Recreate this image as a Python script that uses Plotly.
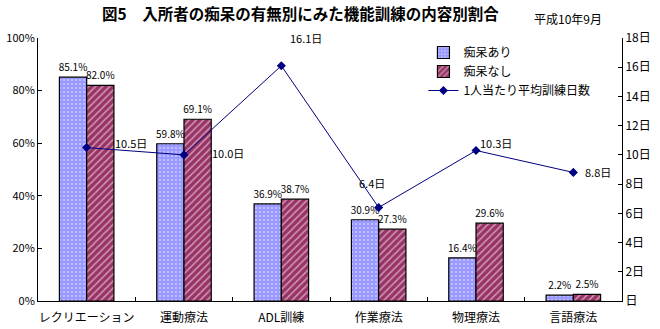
import plotly.graph_objects as go

categories = ["レクリエーション", "運動療法", "ADL訓練", "作業療法", "物理療法", "言語療法"]
with_dementia = [85.1, 59.8, 36.9, 30.9, 16.4, 2.2]
without_dementia = [82.0, 69.1, 38.7, 27.3, 29.6, 2.5]
avg_days = [10.5, 10.0, 16.1, 6.4, 10.3, 8.8]
left_ticks = [0, 20, 40, 60, 80, 100]
left_ticktext = ["0%", "20%", "40%", "60%", "80%", "100%"]
right_ticks = [0, 2, 4, 6, 8, 10, 12, 14, 16, 18]
right_ticktext = ["日", "2日", "4日", "6日", "8日", "10日", "12日", "14日", "16日", "18日"]

# label offsets (style) for line labels
line_lbl_shift = [(44, 5), (44, 2), (25, 28), (-7, 24), (20, 8), (25, 0)]

FONT = "Noto Sans CJK JP"

fig = go.Figure()
fig.add_trace(go.Bar(
    x=categories, y=with_dementia, name="痴呆あり",
    marker=dict(color="#9999FF", line=dict(color="black", width=1.2),
                pattern=dict(shape=".", fgcolor="white", bgcolor="#9999FF", size=4, solidity=0.2)),
    text=[f"{v:.1f}%" for v in with_dementia], textposition="outside", constraintext="none",
    textfont=dict(size=10, color="black"), cliponaxis=False,
))
fig.add_trace(go.Bar(
    x=categories, y=without_dementia, name="痴呆なし",
    marker=dict(color="#993366", line=dict(color="black", width=1.2),
                pattern=dict(shape="/", fgcolor="white", bgcolor="#993366", size=5, solidity=0.3)),
    text=[f"{v:.1f}%" for v in without_dementia], textposition="outside", constraintext="none",
    textfont=dict(size=10, color="black"), cliponaxis=False,
))
fig.add_trace(go.Scatter(
    x=categories, y=avg_days, name="1人当たり平均訓練日数", yaxis="y2",
    mode="lines+markers", line=dict(color="#000080", width=1),
    marker=dict(symbol="diamond", size=7, color="#000080"),
))

annotations = []
for c, v, (dx, dy) in zip(categories, avg_days, line_lbl_shift):
    annotations.append(dict(x=c, y=v, yref="y2", xref="x", text=f"{v:.1f}日",
                            showarrow=False, xshift=dx, yshift=dy,
                            font=dict(size=11, color="black", family=FONT)))
annotations.append(dict(x=0.45, y=1.095, xref="paper", yref="paper", xanchor="center", yanchor="middle",
                        text="<b>図5　入所者の痴呆の有無別にみた機能訓練の内容別割合</b>",
                        showarrow=False, font=dict(size=15.5, color="black", family=FONT)))
annotations.append(dict(x=0.907, y=1.076, xref="paper", yref="paper", xanchor="center", yanchor="middle",
                        text="平成10年9月",
                        showarrow=False, font=dict(size=12, color="black", family=FONT)))

fig.update_layout(
    width=660, height=329,
    margin=dict(l=38, r=38, t=38, b=28),
    paper_bgcolor="white", plot_bgcolor="white",
    font=dict(family=FONT, size=11, color="black"),
    barmode="group", bargap=0.44, bargroupgap=0,
    showlegend=True,
    legend=dict(x=0.66, y=1.0, xanchor="left", yanchor="top", bgcolor="rgba(0,0,0,0)",
                font=dict(size=12), tracegroupgap=0),
    xaxis=dict(type="category", showline=True, linecolor="black", linewidth=1,
               ticks="inside", tickson="boundaries", ticklen=4, tickcolor="black",
               tickfont=dict(size=12), tickangle=0, automargin=False, showgrid=False,
               ticklabelstandoff=6),
    yaxis=dict(range=[0, 100], tickvals=left_ticks, ticktext=left_ticktext, showline=True,
               linecolor="black", linewidth=1, ticks="inside", ticklen=4, tickcolor="black",
               showgrid=False, zeroline=False, tickfont=dict(size=11), automargin=False),
    yaxis2=dict(range=[0, 18], tickvals=right_ticks, ticktext=right_ticktext, overlaying="y",
                side="right", showline=True, linecolor="black", linewidth=1, ticks="inside",
                ticklen=4, tickcolor="black", showgrid=False, zeroline=False,
                tickfont=dict(size=12), automargin=False),
    annotations=annotations,
)
fig.write_html("out.html")
